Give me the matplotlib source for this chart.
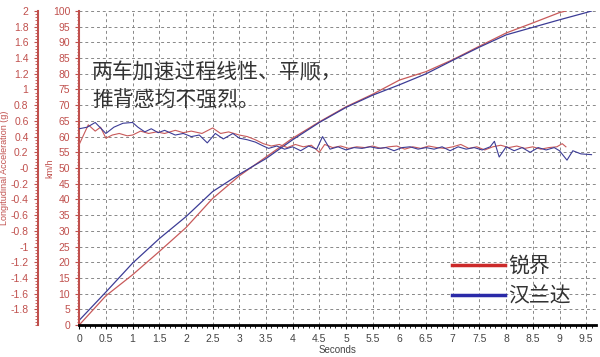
import numpy as np
import matplotlib.pyplot as plt
from matplotlib.ticker import MultipleLocator, FuncFormatter
from matplotlib.lines import Line2D

plt.rcParams['font.family'] = ['Liberation Sans', 'DejaVu Sans']
CJK = ['Noto Sans CJK SC', 'DejaVu Sans']

# speed curves (km/h)
t_red = [0, 0.5, 1, 1.5, 2, 2.5, 3, 3.5, 4, 4.5, 5, 5.5, 6, 6.5, 7, 7.5, 8, 8.5, 9, 9.12]
v_red = [0, 9.3, 16, 23.4, 31, 40.3, 47.5, 53.5, 59.5, 64.7, 69.5, 73.5, 78, 80.7, 84.5, 88.8, 93, 96.2, 99.5, 100]
t_blue = [0, 0.5, 1, 1.5, 2, 2.5, 3, 3.5, 4, 4.5, 5, 5.5, 6, 6.5, 7, 7.5, 8, 8.5, 9, 9.5, 9.6]
v_blue = [1.5, 10.5, 19.7, 27.5, 34.5, 42.5, 48, 53, 59, 64.5, 69.3, 73.2, 76.5, 80, 84.3, 88.5, 92.4, 94.8, 97.2, 99.5, 100]

# longitudinal acceleration (g)
ta_blue = [0, 0.15, 0.3, 0.5, 0.65, 0.82, 1.0, 1.1, 1.23, 1.35, 1.48, 1.6, 1.8, 1.95, 2.1, 2.25,
           2.4, 2.55, 2.7, 2.88, 3.0, 3.15, 3.3, 3.45, 3.55, 3.7, 3.85, 4.0, 4.15, 4.3, 4.45, 4.56,
           4.7, 4.85, 5.0, 5.15, 5.3, 5.45, 5.6, 5.75, 5.9, 6.05, 6.2, 6.35, 6.5, 6.65, 6.8, 6.95,
           7.1, 7.25, 7.4, 7.55, 7.7, 7.78, 7.87, 8.0, 8.15, 8.3, 8.45, 8.6, 8.75, 8.9, 9.0, 9.14,
           9.25, 9.4, 9.6]
a_blue = [0.50, 0.52, 0.58, 0.44, 0.52, 0.57, 0.58, 0.52, 0.46, 0.50, 0.45, 0.48, 0.42, 0.44, 0.40, 0.42,
          0.32, 0.44, 0.37, 0.44, 0.38, 0.36, 0.33, 0.28, 0.25, 0.28, 0.24, 0.27, 0.22, 0.28, 0.24, 0.40,
          0.24, 0.27, 0.23, 0.26, 0.25, 0.27, 0.25, 0.26, 0.22, 0.26, 0.27, 0.24, 0.26, 0.24, 0.27, 0.22,
          0.27, 0.24, 0.26, 0.23, 0.27, 0.34, 0.14, 0.27, 0.22, 0.26, 0.20, 0.26, 0.23, 0.26, 0.22, 0.10,
          0.22, 0.18, 0.17]
ta_red = [0, 0.17, 0.3, 0.4, 0.5, 0.62, 0.75, 0.9, 1.0, 1.15, 1.3, 1.45, 1.6, 1.8, 1.95, 2.1, 2.3,
          2.5, 2.65, 2.8, 3.0, 3.15, 3.3, 3.45, 3.6, 3.75, 3.9, 4.05, 4.2, 4.35, 4.5, 4.6, 4.75, 4.9,
          5.05, 5.2, 5.35, 5.5, 5.65, 5.8, 5.95, 6.1, 6.25, 6.4, 6.55, 6.7, 6.85, 7.0, 7.15, 7.3,
          7.45, 7.6, 7.75, 7.9, 8.05, 8.2, 8.35, 8.5, 8.65, 8.8, 8.95, 9.05, 9.12]
a_red = [0.30, 0.55, 0.47, 0.52, 0.38, 0.42, 0.44, 0.41, 0.42, 0.47, 0.44, 0.46, 0.44, 0.48, 0.45, 0.47, 0.44,
         0.51, 0.44, 0.46, 0.42, 0.40, 0.36, 0.31, 0.28, 0.30, 0.26, 0.30, 0.27, 0.29, 0.20, 0.30, 0.26, 0.28,
         0.25, 0.27, 0.26, 0.28, 0.25, 0.27, 0.28, 0.24, 0.27, 0.25, 0.28, 0.26, 0.25, 0.27, 0.30, 0.25,
         0.27, 0.23, 0.27, 0.29, 0.26, 0.28, 0.25, 0.27, 0.24, 0.26, 0.27, 0.31, 0.27]

names = ['锐界', '汉兰达']
note = '两车加速过程线性、平顺，\n推背感均不强烈。'

RED = '#c85a5a'
BLUE = '#3c3c96'
AX_RED = '#c0504d'

fig = plt.figure(figsize=(6, 3.57), dpi=100)
ax = fig.add_axes([0.132, 0.0896, 0.861, 0.8796])

ax.plot(t_red, v_red, color=RED, lw=0.9)
ax.plot(t_blue, v_blue, color=BLUE, lw=0.9)
ax.set_xlim(0, 9.68)
ax.set_ylim(0, 100)
ax.xaxis.set_major_locator(MultipleLocator(0.5))
ax.xaxis.set_minor_locator(MultipleLocator(0.1))
ax.yaxis.set_major_locator(MultipleLocator(5))
ax.yaxis.set_minor_locator(MultipleLocator(1))
ax.xaxis.set_major_formatter(FuncFormatter(lambda v, p: f'{v:g}'))
ax.grid(True, which='major', ls=(0, (3, 3)), color='#888888', lw=0.7)
for s in ['top', 'right']:
    ax.spines[s].set_visible(False)
ax.spines['bottom'].set_linewidth(2)
ax.spines['bottom'].set_color('black')
ax.spines['left'].set_color(AX_RED)
ax.spines['left'].set_linewidth(1.5)
ax.tick_params(axis='x', labelsize=7.5, colors='black', length=3, labelcolor='#444444')
ax.tick_params(axis='x', which='minor', length=2)
ax.tick_params(axis='y', labelsize=7.5, colors=AX_RED, length=3)
ax.tick_params(axis='y', which='minor', length=1.5, colors=AX_RED)
ax.set_xlabel('Seconds', fontsize=7, color='#444444', labelpad=1)
ax.text(-0.056, 0.5, 'km/h', transform=ax.transAxes, rotation=90, fontsize=6.5,
        color=AX_RED, ha='center', va='center')

ax2 = ax.twinx()
ax2.plot(ta_red, a_red, color=RED, lw=0.8)
ax2.plot(ta_blue, a_blue, color=BLUE, lw=0.8)
ax2.set_ylim(-2, 2)
ax2.set_yticks(np.arange(-1.8, 2.01, 0.2))
ax2.yaxis.set_minor_locator(MultipleLocator(0.04))
ax2.yaxis.set_major_formatter(FuncFormatter(lambda v, p: f'{round(v, 1):g}'))
ax2.yaxis.set_ticks_position('left')
ax2.yaxis.set_label_position('left')
ax2.spines['left'].set_position(('outward', 30))
ax2.spines['left'].set_color(AX_RED)
ax2.spines['left'].set_linewidth(1.5)
for s in ['top', 'right', 'bottom']:
    ax2.spines[s].set_visible(False)
ax2.tick_params(axis='y', labelsize=7.5, colors=AX_RED, length=3)
ax2.tick_params(axis='y', which='minor', length=2, colors=AX_RED)
ax2.set_ylabel('Longitudinal Acceleration (g)', fontsize=6.5, color=AX_RED, labelpad=1)

ax.text(0.24, 76, note, fontsize=15, color='#333333', family=CJK,
        va='center', linespacing=1.35)

handles = [Line2D([], [], color='#cc2a2a', lw=2.5), Line2D([], [], color='#2a2aa8', lw=2.5)]
leg = ax.legend(handles, names, loc='upper left', bbox_to_anchor=(452 / 600, 1 - 255 / 357),
                bbox_transform=fig.transFigure, borderpad=0, borderaxespad=0,
                frameon=False, handlelength=2.55, handletextpad=0.15, labelspacing=0.4,
                prop={'family': CJK, 'size': 15})
for txt in leg.get_texts():
    txt.set_color('#333333')

fig.savefig('out.png', dpi=100)
